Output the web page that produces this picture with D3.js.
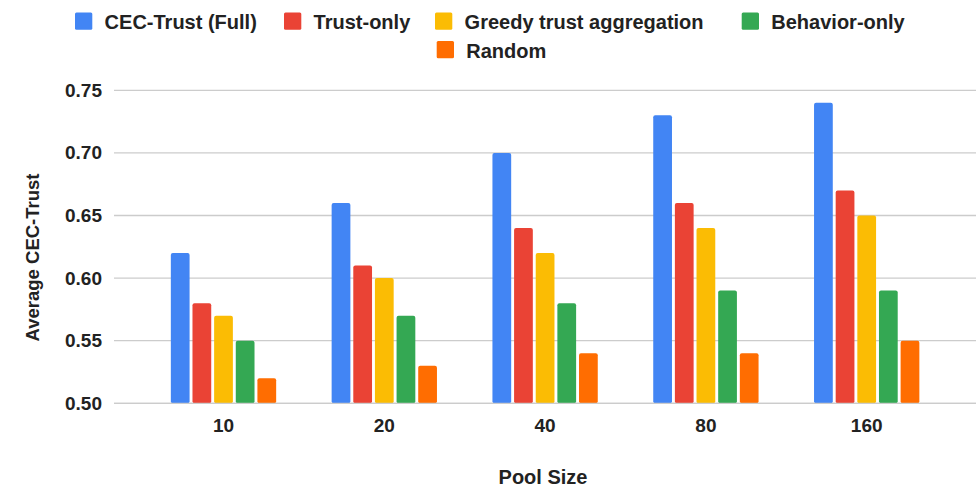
<!DOCTYPE html>
<html>
<head>
<meta charset="utf-8">
<script src="https://cdn.jsdelivr.net/npm/d3@7/dist/d3.min.js"></script>
<style>
  html, body { margin: 0; padding: 0; background: #fff; }
  svg { display: block; font-family: Arial, "Liberation Sans", sans-serif; }
</style>
</head>
<body>
<svg id="chart" width="976" height="490"></svg>
<script>
// Pool sizes on the x axis
const poolSizes = ["10", "20", "40", "80", "160"];

// Method names (legend order)
const methods = ["CEC-Trust (Full)", "Trust-only", "Greedy trust aggregation", "Behavior-only", "Random"];

// Average CEC-Trust per method, one value per pool size
const cecTrustFull   = [0.62, 0.66, 0.70, 0.73, 0.74];
const trustOnly      = [0.58, 0.61, 0.64, 0.66, 0.67];
const greedyTrust    = [0.57, 0.60, 0.62, 0.64, 0.65];
const behaviorOnly   = [0.55, 0.57, 0.58, 0.59, 0.59];
const randomSel      = [0.52, 0.53, 0.54, 0.54, 0.55];

// Y axis ticks
const yTicks = [0.50, 0.55, 0.60, 0.65, 0.70, 0.75];

const seriesValues = [cecTrustFull, trustOnly, greedyTrust, behaviorOnly, randomSel];
const colors = ["#4285F4", "#EA4335", "#FBBC04", "#34A853", "#FF6D01"];

const svg = d3.select("#chart");
const textColor = "#222";
const fontFamily = "Arial, 'Liberation Sans', sans-serif";

// Plot geometry
const gridLeft = 114, gridRight = 976;
const plotTop = 90.3, plotBottom = 403.3;

const y = d3.scaleLinear().domain([0.50, 0.75]).range([plotBottom, plotTop]);

const x0 = d3.scaleBand()
  .domain(poolSizes)
  .range([143.1, 947.1])
  .paddingInner(0.345)
  .paddingOuter(0.1725);

const x1 = d3.scaleBand()
  .domain(methods)
  .range([0, x0.bandwidth()])
  .paddingInner(0.134)
  .paddingOuter(0);

// Gridlines
svg.append("g")
  .selectAll("line")
  .data(yTicks)
  .join("line")
  .attr("x1", gridLeft)
  .attr("x2", gridRight)
  .attr("y1", d => y(d))
  .attr("y2", d => y(d))
  .attr("stroke", "#cccccc")
  .attr("stroke-width", 1.3);

// Y axis labels
const yAxis = d3.axisLeft(y).tickValues(yTicks).tickFormat(d3.format(".2f")).tickSize(0).tickPadding(0);
const yg = svg.append("g").attr("transform", "translate(102,0)").call(yAxis);
yg.select(".domain").remove();
yg.selectAll("text")
  .attr("font-size", 19)
  .attr("font-weight", "bold")
  .attr("fill", textColor)
  .attr("font-family", fontFamily);

// X axis labels
const xAxis = d3.axisBottom(x0).tickSize(0).tickPadding(0);
const xg = svg.append("g").attr("transform", "translate(0,418)").call(xAxis);
xg.select(".domain").remove();
xg.selectAll("text")
  .attr("font-size", 19)
  .attr("font-weight", "bold")
  .attr("fill", textColor)
  .attr("font-family", fontFamily);

// Bars
const rows = poolSizes.map((p, i) => ({
  pool: p,
  values: methods.map((m, j) => ({ method: m, value: seriesValues[j][i], color: colors[j] }))
}));

svg.append("g")
  .selectAll("g")
  .data(rows)
  .join("g")
  .attr("transform", d => `translate(${x0(d.pool)},0)`)
  .selectAll("rect")
  .data(d => d.values)
  .join("rect")
  .attr("x", d => x1(d.method))
  .attr("width", x1.bandwidth())
  .attr("y", d => y(d.value))
  .attr("height", d => y(0.50) - y(d.value))
  .attr("rx", 2)
  .attr("fill", d => d.color);

// Baseline drawn over bar bottoms
svg.append("line")
  .attr("x1", gridLeft).attr("x2", gridRight)
  .attr("y1", y(0.50)).attr("y2", y(0.50))
  .attr("stroke", "#cccccc").attr("stroke-width", 1.3);

// Axis titles
svg.append("text")
  .attr("transform", "translate(39.3,257.5) rotate(-90)")
  .attr("text-anchor", "middle")
  .attr("font-size", 18.5)
  .attr("font-weight", "bold")
  .attr("fill", textColor)
  .text("Average CEC-Trust");

svg.append("text")
  .attr("x", 543)
  .attr("y", 484.3)
  .attr("text-anchor", "middle")
  .attr("font-size", 20)
  .attr("font-weight", "bold")
  .attr("fill", textColor)
  .text("Pool Size");

// Legend layout: swatch left edge and row for each entry
const legendLayout = [
  { x: 75, row: 0 },
  { x: 284, row: 0 },
  { x: 435, row: 0 },
  { x: 741.7, row: 0 },
  { x: 436.7, row: 1 }
];
const rowBaselines = [29.3, 57.7];

const legend = svg.append("g")
  .selectAll("g")
  .data(methods.map((m, i) => ({ name: m, color: colors[i], pos: legendLayout[i] })))
  .join("g")
  .attr("transform", d => `translate(${d.pos.x},${rowBaselines[d.pos.row]})`);

legend.append("rect")
  .attr("x", 0)
  .attr("y", -16.8)
  .attr("width", 17.3)
  .attr("height", 17.3)
  .attr("rx", 1.5)
  .attr("fill", d => d.color);

legend.append("text")
  .attr("x", 29.6)
  .attr("y", 0)
  .attr("font-size", 20)
  .attr("font-weight", "bold")
  .attr("fill", textColor)
  .text(d => d.name);
</script>
</body>
</html>
